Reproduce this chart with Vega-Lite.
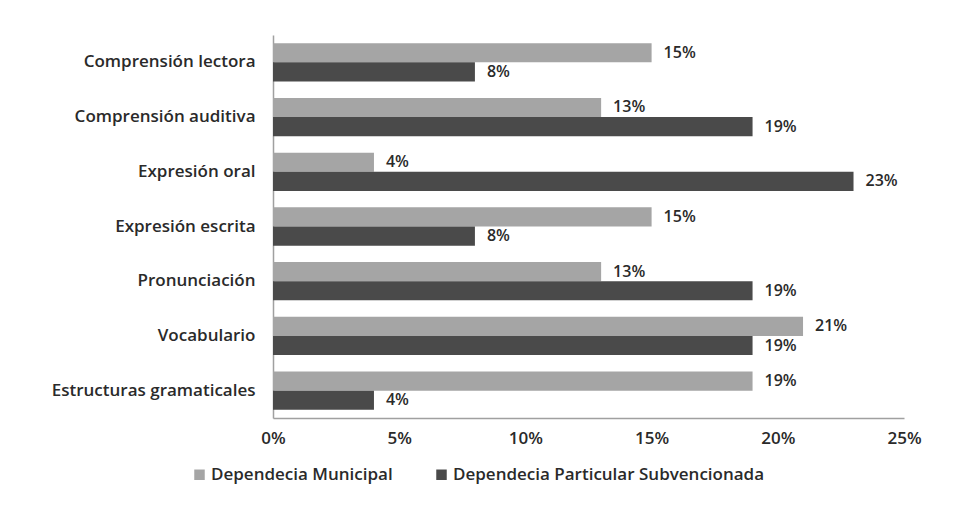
{
  "$schema": "https://vega.github.io/schema/vega-lite/v6.json",
  "autosize": "none",
  "width": 631,
  "height": 383,
  "padding": {"left": 273, "top": 35, "right": 61, "bottom": 96},
  "background": "white",
  "config": {
    "font": "Open Sans",
    "view": {"stroke": null},
    "axis": {"labelFont": "Open Sans", "labelColor": "#2a2a2a", "labelFontSize": 17, "labelFontWeight": 600, "domainColor": "#a0a0a0", "domainWidth": 1.5},
    "legend": {"labelFont": "Open Sans", "labelFontSize": 17, "labelFontWeight": 600, "labelColor": "#2a2a2a"}
  },
  "data": {
    "values": [
      {"cat": "Comprensión lectora", "serie": "Dependecia Municipal", "v": 0.15},
      {"cat": "Comprensión lectora", "serie": "Dependecia Particular Subvencionada", "v": 0.08},
      {"cat": "Comprensión auditiva", "serie": "Dependecia Municipal", "v": 0.13},
      {"cat": "Comprensión auditiva", "serie": "Dependecia Particular Subvencionada", "v": 0.19},
      {"cat": "Expresión oral", "serie": "Dependecia Municipal", "v": 0.04},
      {"cat": "Expresión oral", "serie": "Dependecia Particular Subvencionada", "v": 0.23},
      {"cat": "Expresión escrita", "serie": "Dependecia Municipal", "v": 0.15},
      {"cat": "Expresión escrita", "serie": "Dependecia Particular Subvencionada", "v": 0.08},
      {"cat": "Pronunciación", "serie": "Dependecia Municipal", "v": 0.13},
      {"cat": "Pronunciación", "serie": "Dependecia Particular Subvencionada", "v": 0.19},
      {"cat": "Vocabulario", "serie": "Dependecia Municipal", "v": 0.21},
      {"cat": "Vocabulario", "serie": "Dependecia Particular Subvencionada", "v": 0.19},
      {"cat": "Estructuras gramaticales", "serie": "Dependecia Municipal", "v": 0.19},
      {"cat": "Estructuras gramaticales", "serie": "Dependecia Particular Subvencionada", "v": 0.04}
    ]
  },
  "encoding": {
    "y": {
      "field": "cat", "type": "nominal", "sort": null, "title": null,
      "scale": {"paddingInner": 0.3, "paddingOuter": 0.15},
      "axis": {"ticks": false, "labelPadding": 18, "labelLimit": 300}
    },
    "yOffset": {"field": "serie", "type": "nominal", "sort": ["Dependecia Municipal", "Dependecia Particular Subvencionada"], "scale": {"paddingInner": 0, "paddingOuter": 0}},
    "x": {
      "field": "v", "type": "quantitative", "title": null,
      "scale": {"domain": [0, 0.25], "nice": false},
      "axis": {"format": ".0%", "values": [0, 0.05, 0.1, 0.15, 0.2, 0.25], "grid": false, "ticks": false, "labelPadding": 12, "labelFlush": false, "labelOverlap": false}
    }
  },
  "layer": [
    {
      "mark": {"type": "bar"},
      "encoding": {
        "color": {
          "field": "serie", "type": "nominal",
          "scale": {"domain": ["Dependecia Municipal", "Dependecia Particular Subvencionada"], "range": ["#a5a5a5", "#4a4a4a"]},
          "legend": {"title": null, "orient": "none", "direction": "horizontal", "legendX": -82, "legendY": 431, "symbolType": "square", "symbolSize": 110, "symbolStrokeWidth": 0, "labelOffset": 3, "columnPadding": 40, "labelLimit": 500}
        }
      }
    },
    {
      "mark": {"type": "text", "align": "left", "baseline": "middle", "dx": 12, "fontSize": 16, "fontWeight": 600, "color": "#2a2a2a", "font": "Open Sans"},
      "encoding": {"text": {"field": "v", "type": "quantitative", "format": ".0%"}}
    }
  ]
}
